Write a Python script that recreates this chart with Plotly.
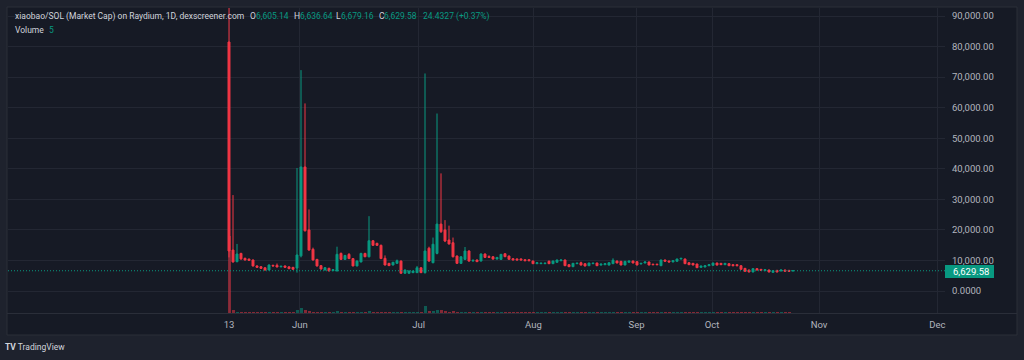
import plotly.graph_objects as go

# ---------------- data ----------------
opens = [81500, 13400, 9600, 12300, 10700, 10450, 10150, 8200, 7950, 7600,
         6870, 8400, 8400, 7900, 8200, 7900, 7750, 7500, 11500, 40600,
         20000, 13650, 10350, 8300, 6870, 7430, 6650, 6550, 12300, 10350,
         12000, 10600, 8200, 9500, 12300, 11200, 16450, 15600, 14950, 10700,
         9050, 8500, 9050, 9800, 5800, 5800, 6000, 6000, 7600, 6000,
         14000, 9250, 12300, 21900, 20000, 16700, 15800, 11450, 9050, 10350,
         13100, 9800, 10150, 9800, 12100, 11300, 11200, 10450, 10350, 12200,
         11450, 10570, 10500, 10500, 10250, 10250, 9820, 8940, 8940, 8940,
         9720, 8940, 9390, 9900, 10150, 8610, 7950, 8940, 9260, 8940,
         8280, 8940, 9160, 8480, 8600, 8480, 8940, 9820, 9720, 8510,
         9390, 9820, 9600, 8830, 9160, 9500, 8800, 8800, 8280, 10150,
         9820, 9500, 9720, 10470, 10470, 9260, 9060, 8840, 7740, 7850,
         8280, 8400, 9160, 9060, 8610, 8940, 8610, 8610, 8280, 7420,
         6870, 6220, 7310, 7090, 6650, 6870, 6110, 6760, 6540, 6870,
         6760, 6605.14]
highs = [95000, 31400, 15400, 12500, 10900, 10600, 10300, 8400, 8100, 7700,
         8700, 8600, 9000, 8200, 8300, 8000, 7850, 40250, 72300, 61400,
         26700, 14200, 10500, 8500, 7800, 7600, 7100, 14500, 12600, 11800,
         12400, 10700, 10000, 12500, 12500, 24500, 16600, 15800, 15200, 11650,
         9200, 9500, 10300, 10000, 7000, 6700, 6600, 8200, 7700, 71200,
         14500, 17500, 58100, 38500, 23200, 21400, 17500, 11600, 11400, 14400,
         13300, 10400, 10300, 12300, 12300, 11700, 11400, 11100, 12100, 12300,
         11600, 10700, 10600, 10600, 10400, 10350, 9900, 9350, 9200, 9200,
         10000, 9900, 10250, 10250, 10250, 8700, 9150, 9200, 9600, 9000,
         9250, 9200, 9250, 8900, 9000, 9350, 10700, 9900, 9800, 9800,
         9900, 9900, 9700, 9100, 9600, 9600, 8850, 8850, 10250, 10250,
         9900, 10000, 10550, 10750, 10600, 9350, 9150, 8900, 8250, 8350,
         8700, 9250, 9250, 9150, 9150, 9000, 8700, 8700, 8350, 7500,
         6950, 7400, 7400, 7150, 7050, 6950, 6700, 6850, 6950, 6950,
         6800, 6680]
lows = [11000, 9300, 9400, 10200, 10000, 9900, 8000, 7600, 7300, 6700,
        6800, 8100, 7800, 7800, 7700, 7200, 7000, 6000, 11000, 19500,
        13200, 10000, 8000, 7000, 6800, 6500, 6600, 6500, 10200, 10300,
        10500, 8100, 8100, 9400, 11100, 11000, 14800, 14800, 10500, 8400,
        8200, 8400, 9000, 5700, 5700, 5700, 5900, 5900, 5900, 5700,
        9600, 9100, 12000, 19000, 16000, 15200, 11000, 8900, 8900, 10200,
        9600, 9700, 9500, 9700, 10900, 10900, 10300, 10400, 10300, 11100,
        10300, 10100, 10100, 10100, 9850, 9850, 8900, 8900, 8900, 8900,
        8900, 8900, 9300, 9850, 8200, 7900, 7900, 8900, 8400, 8100,
        8200, 8900, 8200, 8400, 8550, 8400, 8900, 9100, 8450, 8450,
        9350, 9100, 8450, 8800, 9100, 8450, 8550, 8550, 8200, 9650,
        9450, 9450, 9650, 10400, 8900, 8550, 8450, 7550, 7700, 7800,
        8250, 8350, 8400, 8550, 8550, 8200, 8200, 8200, 7000, 6350,
        6150, 6150, 6800, 6700, 6600, 6150, 6050, 6150, 6500, 6400,
        6400, 6600]
closes = [13100, 9500, 12100, 10500, 10150, 10050, 8200, 7750, 7400, 6870,
          8500, 8200, 7850, 8100, 7750, 7300, 7100, 11800, 40600, 19700,
          13400, 10150, 8200, 7200, 7630, 6550, 6970, 12000, 10350, 11650,
          10600, 8200, 9800, 12300, 11200, 16450, 14950, 14950, 10600, 8500,
          8300, 9400, 9900, 5800, 6870, 6550, 6550, 7600, 6000, 13100,
          9800, 15300, 21900, 19400, 16350, 15400, 11200, 9050, 11200, 13100,
          9800, 10000, 9600, 12100, 11000, 11000, 10450, 11000, 12000, 11230,
          10370, 10150, 10150, 10150, 9920, 9920, 8940, 9260, 9100, 9100,
          8940, 9820, 10150, 10150, 8280, 7950, 9060, 9100, 8480, 8180,
          9160, 9100, 8280, 8800, 8940, 9260, 10050, 9160, 8510, 9720,
          9820, 9160, 8510, 9050, 9500, 8510, 8610, 8610, 10150, 9720,
          9500, 9920, 10470, 10690, 8940, 8610, 8510, 7630, 8180, 8280,
          8610, 9160, 8480, 8610, 9060, 8280, 8280, 8280, 7100, 6440,
          6220, 7310, 6870, 6760, 6980, 6220, 6650, 6220, 6870, 6440,
          6440, 6629.58]
volumes = [12000, 400, 180, 150, 140, 130, 160, 140, 130, 150,
           160, 120, 140, 120, 130, 140, 150, 450, 800, 420,
           280, 220, 180, 150, 140, 150, 120, 260, 180, 150,
           160, 170, 140, 180, 140, 300, 200, 160, 180, 170,
           140, 130, 140, 200, 150, 130, 120, 160, 150, 1100,
           320, 300, 480, 420, 260, 220, 240, 180, 170, 200,
           190, 130, 140, 180, 150, 130, 140, 120, 160, 150,
           140, 130, 120, 130, 140, 120, 150, 130, 120, 130,
           140, 150, 140, 120, 160, 140, 150, 120, 140, 130,
           140, 120, 150, 120, 130, 140, 160, 130, 140, 150,
           130, 140, 150, 120, 130, 150, 120, 120, 170, 140,
           130, 140, 150, 130, 160, 140, 140, 160, 130, 130,
           130, 140, 140, 120, 130, 140, 120, 120, 160, 150,
           140, 150, 130, 120, 130, 140, 130, 140, 130, 130,
           120, 5]

tick_index = [0, 17.7, 47.4, 76.1, 101.9, 120.75, 147.5, 177.1]
tick_labels = ["13", "Jun", "Jul", "Aug", "Sep", "Oct", "Nov", "Dec"]

price_ticks = [0, 10000, 20000, 30000, 40000, 50000, 60000, 70000, 80000, 90000]
price_tick_labels = ["0.0000", "10,000.00", "20,000.00", "30,000.00", "40,000.00",
                     "50,000.00", "60,000.00", "70,000.00", "80,000.00", "90,000.00"]

last_price = 6629.58
last_price_label = "6,629.58"
legend_title = "xiaobao/SOL (Market Cap) on Raydium, 1D, dexscreener.com"
legend_keys = ["O", "H", "L", "C"]
legend_vals = ["6,605.14", "6,636.64", "6,679.16", "6,629.58"]
legend_change = "24.4327 (+0.37%)"
volume_value = "5"

# ---------------- styling ----------------
UP = "#089981"
DOWN = "#F23645"
UP_VOL = "rgba(8,153,129,0.5)"
DOWN_VOL = "rgba(242,54,69,0.5)"
INNER = "#161a25"
OUTER = "#1e222d"
GRID = "#232733"
BORDER = "#2a2e39"
TXT = "#b2b5be"
FONT = "Roboto"

W, H = 1024, 360
L, R, T, B = 8, 945, 8, 313  # plot area in pixels


def px(xp):
    return (xp - L) / (R - L)


def py(yp):
    return (B - yp) / (B - T)


x = list(range(len(opens)))
vol_colors = [UP_VOL if c >= o else DOWN_VOL for o, c in zip(opens, closes)]

fig = go.Figure()
fig.add_trace(go.Candlestick(
    x=x, open=opens, high=highs, low=lows, close=closes,
    increasing=dict(line=dict(color=UP, width=1), fillcolor=UP),
    decreasing=dict(line=dict(color=DOWN, width=1), fillcolor=DOWN),
    whiskerwidth=0, hoverinfo="skip", showlegend=False,
))
fig.add_trace(go.Bar(
    x=x, y=volumes, yaxis="y2", marker=dict(color=vol_colors, line=dict(width=0)),
    width=0.75, hoverinfo="skip", showlegend=False,
))

shapes = [
    dict(type="rect", xref="paper", yref="paper", x0=px(7), x1=px(1017), y0=py(335), y1=py(7),
         fillcolor=INNER, line=dict(color=BORDER, width=1), layer="below"),
    dict(type="line", xref="paper", yref="paper", x0=px(7), x1=px(1017), y0=py(313.5), y1=py(313.5),
         line=dict(color=BORDER, width=1), layer="above"),
    dict(type="line", xref="paper", yref="y", x0=0, x1=1, y0=last_price, y1=last_price,
         line=dict(color=UP, width=1, dash="1px,2px"), layer="above"),
    dict(type="rect", xref="paper", yref="paper", x0=px(945), x1=px(994), y0=py(278), y1=py(265),
         fillcolor=UP, line=dict(width=0), layer="above"),
]

ann = []


def text(xp, yp, s, color, size=8.5, xanchor="left"):
    ann.append(dict(xref="paper", yref="paper", x=px(xp), y=py(yp), text=s, showarrow=False,
                    xanchor=xanchor, yanchor="middle", font=dict(family=FONT, size=size, color=color)))


text(12.5, 16.5, legend_title, "#d1d4dc")
key_x = [248, 291.5, 334, 376.5]
val_x = [254, 297.5, 339, 382]
for k, v, kx, vx in zip(legend_keys, legend_vals, key_x, val_x):
    text(kx, 16.5, k, "#d1d4dc")
    text(vx, 16.5, v, UP)
text(420.5, 16.5, legend_change, UP)
text(12.5, 29.5, "Volume", "#d1d4dc")
text(46.5, 29.5, volume_value, UP)
text(951, 271.5, last_price_label, "#ffffff", size=9.5)
text(3, 347, "<b>TV</b> TradingView", "#d1d4dc", size=8.5)

fig.update_layout(
    width=W, height=H, autosize=False,
    margin=dict(l=L, r=W - R, t=T, b=H - B, pad=0),
    paper_bgcolor=OUTER, plot_bgcolor=INNER,
    hovermode=False, showlegend=False, bargap=0,
    shapes=shapes, annotations=ann,
    xaxis=dict(range=[-55.25, 179], tickmode="array", tickvals=tick_index, ticktext=tick_labels,
               showgrid=True, gridcolor=GRID, gridwidth=1, zeroline=False, showline=False,
               ticks="", tickfont=dict(family=FONT, size=9.5, color=TXT),
               rangeslider=dict(visible=False), fixedrange=True, ticklabelstandoff=4),
    yaxis=dict(range=[-7200, 92630], side="right", tickmode="array", tickvals=price_ticks,
               ticktext=price_tick_labels, showgrid=True, gridcolor=GRID, gridwidth=1,
               zeroline=False, showline=False, ticks="",
               tickfont=dict(family=FONT, size=9.5, color=TXT), fixedrange=True,
               ticklabelstandoff=6),
    yaxis2=dict(overlaying="y", range=[0, volumes[0] * 305 / 77], visible=False, fixedrange=True),
)

fig.write_html(
    "out.html",
    config={"displayModeBar": False},
    post_script="document.body.style.margin='0';document.body.style.background='" + OUTER + "';",
)
